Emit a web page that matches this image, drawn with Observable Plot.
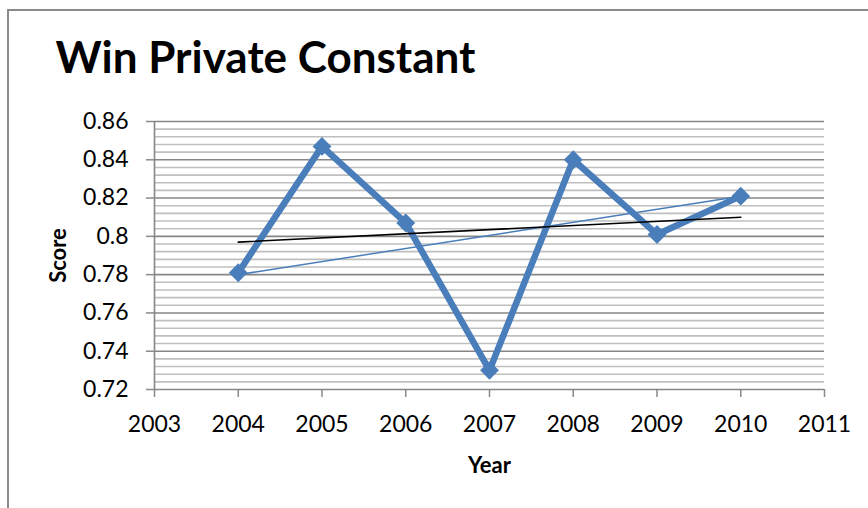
<!DOCTYPE html>
<html><head><meta charset="utf-8">
<script src="https://cdn.jsdelivr.net/npm/d3@7"></script>
<script src="https://cdn.jsdelivr.net/npm/@observablehq/plot@0.6"></script>
<style>
html,body{margin:0;padding:0;background:#fff;overflow:hidden;}
#wrap{position:relative;width:868px;height:508px;overflow:hidden;background:#fff;}
#border{position:absolute;left:7px;top:9px;width:1000px;height:1000px;border:2px solid #8a8a8a;box-sizing:border-box;}
#wrap svg{position:absolute;left:0;top:0;}
svg [aria-label="x-axis"] line, svg [aria-label="y-axis"] line,
svg [aria-label$="axis tick"] path, svg [aria-label$="axis tick"] line {stroke:#8a8a8a;stroke-width:1.5px;}
</style></head><body><div id="wrap"><div id="border"></div></div>
<script>
// Data
const years = [2004, 2005, 2006, 2007, 2008, 2009, 2010];
const scores = [0.781, 0.847, 0.807, 0.730, 0.840, 0.801, 0.821];
// black trend line endpoints
const trendYears = [2004, 2010];
const trendScores = [0.797, 0.810];
// thin blue line endpoints
const thinYears = [2004, 2010];
const thinScores = [0.780, 0.821];
// Axis ticks
const xTicks = [2003, 2004, 2005, 2006, 2007, 2008, 2009, 2010, 2011];
const yTicks = [0.72, 0.74, 0.76, 0.78, 0.80, 0.82, 0.84, 0.86];
const title = "Win Private Constant";
const xLabel = "Year";
const yLabel = "Score";

const data = years.map((y, i) => ({year: y, score: scores[i]}));
const trend = trendYears.map((y, i) => ({year: y, score: trendScores[i]}));
const thin = thinYears.map((y, i) => ({year: y, score: thinScores[i]}));
const minorGrid = d3.range(0, 36).map(i => +(0.72 + i * 0.004).toFixed(3))
  .filter(v => !yTicks.some(t => Math.abs(t - v) < 1e-9));

const blue = "#4a7ebb";
const chart = Plot.plot({
  width: 868, height: 508,
  marginLeft: 154, marginRight: 44, marginTop: 121, marginBottom: 119,
  style: {fontFamily: "Lato, 'Open Sans', sans-serif", fontSize: "23px", color: "#000", background: "transparent", overflow: "visible"},
  x: {domain: [2003, 2011], ticks: xTicks, tickFormat: d => String(d), tickSize: 8, tickPadding: 18, label: null},
  y: {domain: [0.72, 0.86], ticks: yTicks, tickFormat: d => String(+d.toFixed(2)), tickSize: 8, tickPadding: 18, label: null},
  marks: [
    Plot.ruleY(minorGrid, {stroke: "#bfbfbf", strokeWidth: 1.6}),
    Plot.ruleY(yTicks, {stroke: "#868686", strokeWidth: 1.6}),
    Plot.ruleX([2003], {stroke: "#868686", strokeWidth: 1.6}),
    Plot.line(data, {x: "year", y: "score", stroke: blue, strokeWidth: 6.5, strokeLinejoin: "round"}),
    Plot.line(thin, {x: "year", y: "score", stroke: blue, strokeWidth: 1.5}),
    Plot.line(trend, {x: "year", y: "score", stroke: "#000", strokeWidth: 1.6}),
    Plot.dot(data, {x: "year", y: "score", symbol: "diamond2", r: 8.5, fill: blue, stroke: "none"}),
    Plot.text([title], {frameAnchor: "top-left", dx: -99, dy: -63, textAnchor: "start", lineAnchor: "middle", fontSize: 44, fontWeight: "bold", fill: "#000"}),
    Plot.text([xLabel], {frameAnchor: "bottom", dy: 76, textAnchor: "middle", lineAnchor: "middle", fontSize: 22, fontWeight: "bold", fill: "#000"}),
    Plot.text([yLabel], {frameAnchor: "left", dx: -96, rotate: -90, textAnchor: "middle", lineAnchor: "middle", fontSize: 22, fontWeight: "bold", fill: "#000"})
  ]
});
document.getElementById("wrap").appendChild(chart);
</script>
</body></html>
